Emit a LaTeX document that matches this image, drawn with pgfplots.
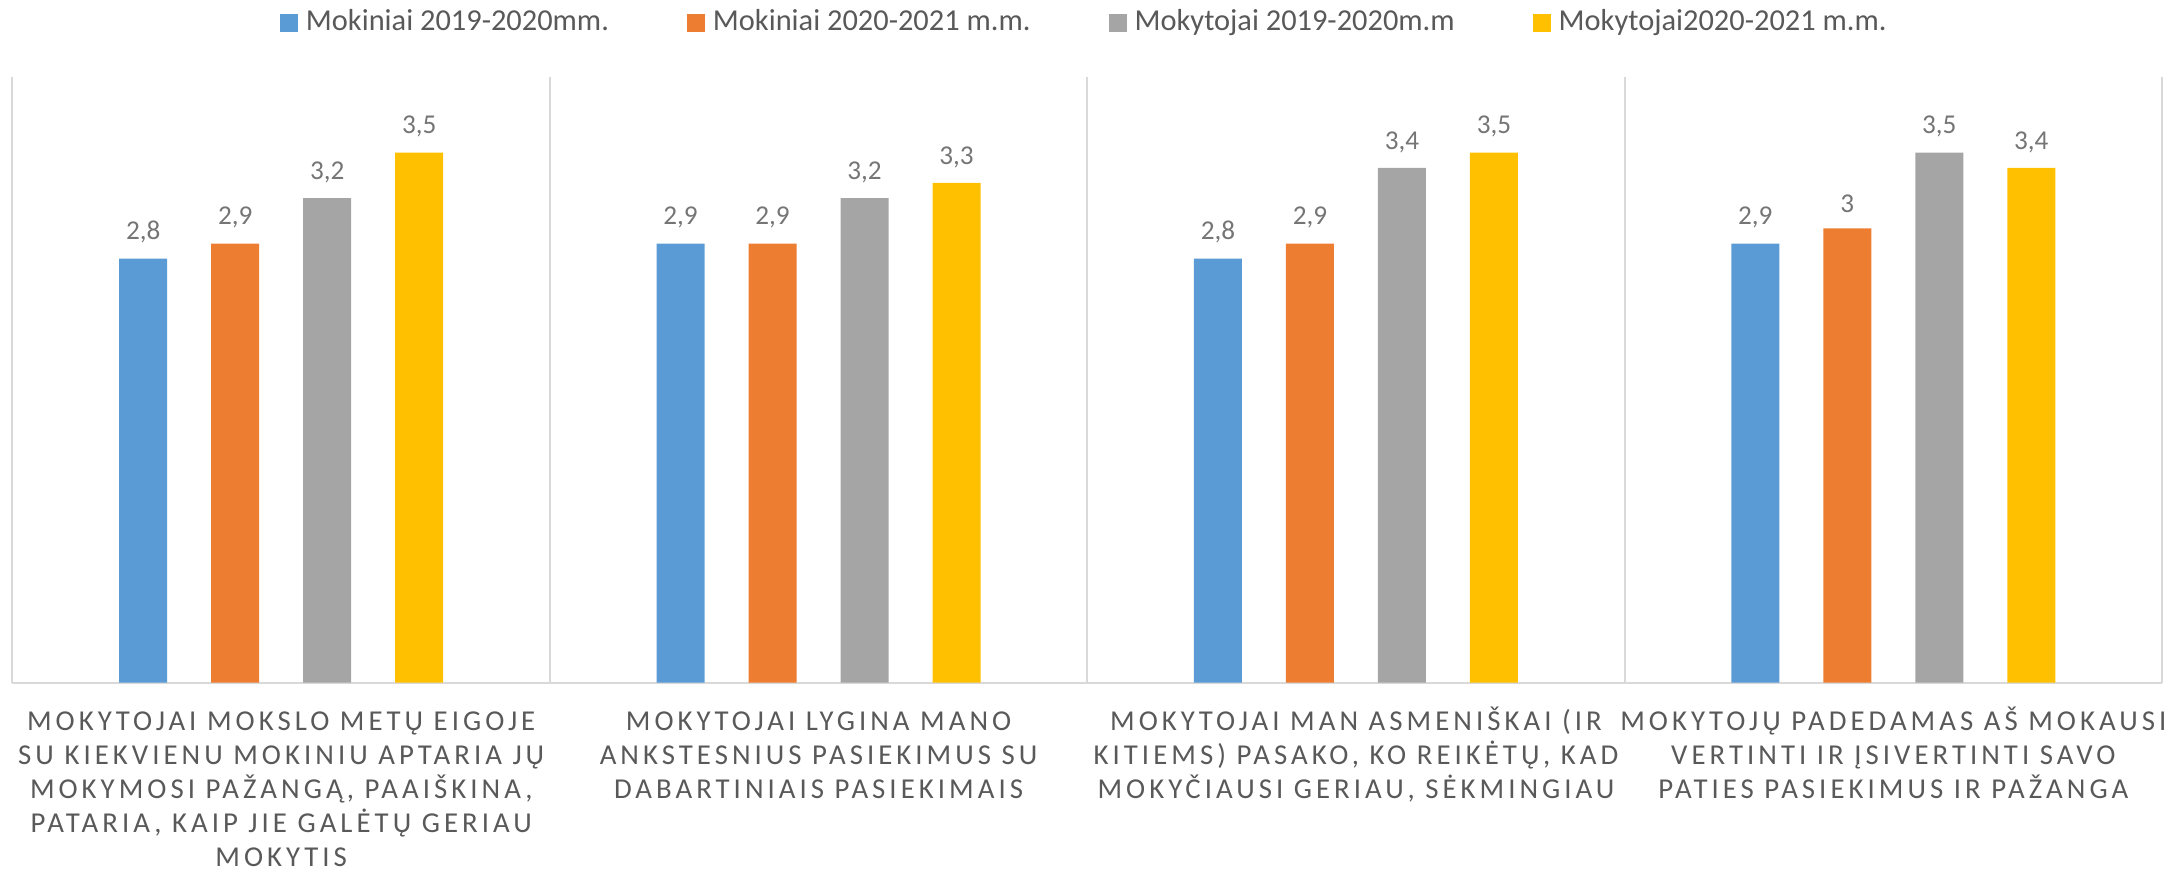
\documentclass[border=0pt]{standalone}
\usepackage{fontspec}
\setmainfont{Carlito}
\newfontfamily\catfont[LetterSpace=14]{Carlito}
\usepackage{pgfplots}
\pgfplotsset{compat=1.18}
\usetikzlibrary{calc}

\definecolor{cBlue}{HTML}{5B9BD5}
\definecolor{cOrange}{HTML}{ED7D31}
\definecolor{cGray}{HTML}{A5A5A5}
\definecolor{cYellow}{HTML}{FFC000}
\definecolor{txt}{HTML}{595959}
\definecolor{lbl}{HTML}{757575}
\definecolor{grid}{HTML}{D9D9D9}

\newcommand\cs{\rule{0pt}{6pt}}

\begin{document}
\begin{tikzpicture}
\begin{axis}[
  scale only axis,
  width=537.375pt, height=151.375pt,
  ybar=11pt, bar width=12pt,
  xmin=-0.5, xmax=3.5, ymin=0, ymax=4,
  axis x line*=bottom, axis y line=none,
  x axis line style={draw=grid, line width=0.5pt},
  xtick={0,1,2,3},
  minor xtick={-0.5,0.5,1.5,2.5,3.5},
  xminorgrids, minor grid style={draw=grid, line width=0.5pt},
  major tick length=0pt, minor tick length=0pt,
  ytick=\empty,
  xticklabels={
    {\cs MOKYTOJAI MOKSLO METŲ EIGOJE\\SU KIEKVIENU MOKINIU APTARIA JŲ\\MOKYMOSI PAŽANGĄ, PAAIŠKINA,\\PATARIA, KAIP JIE GALĖTŲ GERIAU\\MOKYTIS},
    {\cs MOKYTOJAI LYGINA MANO\\ANKSTESNIUS PASIEKIMUS SU\\DABARTINIAIS PASIEKIMAIS},
    {\cs MOKYTOJAI MAN ASMENIŠKAI (IR\\KITIEMS) PASAKO, KO REIKĖTŲ, KAD\\MOKYČIAUSI GERIAU, SĖKMINGIAU},
    {\cs MOKYTOJŲ PADEDAMAS AŠ MOKAUSI\\VERTINTI IR ĮSIVERTINTI SAVO\\PATIES PASIEKIMUS IR PAŽANGA}
  },
  xticklabel style={anchor=north, align=center, inner sep=0pt, yshift=-5.9pt,
    font=\catfont\fontsize{7.2}{8.5}\selectfont, text=txt},
  nodes near coords,
  nodes near coords style={font=\fontsize{6.8}{8}\selectfont, text=lbl, yshift=0.3pt},
  /pgf/number format/use comma,
  /pgf/number format/assume math mode=true,
  legend columns=4,
  legend style={at={(0.5,1)}, anchor=center, yshift=13.5pt, draw=none,
    font=\fontsize{7.6}{9}\selectfont, text=txt,
    /tikz/every even column/.append style={column sep=17.5pt}},
  legend image code/.code={\fill[#1] (0pt,-2.25pt) rectangle (4.5pt,2.25pt);},
]
\addplot[fill=cBlue, draw=none] coordinates {(0,2.8)(1,2.9)(2,2.8)(3,2.9)};
\addlegendentry{Mokiniai 2019-2020mm.}
\addplot[fill=cOrange, draw=none] coordinates {(0,2.9)(1,2.9)(2,2.9)(3,3)};
\addlegendentry{Mokiniai 2020-2021 m.m.}
\addplot[fill=cGray, draw=none] coordinates {(0,3.2)(1,3.2)(2,3.4)(3,3.5)};
\addlegendentry{Mokytojai 2019-2020m.m}
\addplot[fill=cYellow, draw=none] coordinates {(0,3.5)(1,3.3)(2,3.5)(3,3.4)};
\addlegendentry{Mokytojai2020-2021 m.m.}
\coordinate (O) at (rel axis cs:0,0);
\end{axis}
\pgfresetboundingbox
\path ($(O)+(-3.125pt,-47.125pt)$) rectangle ++(545pt,217.75pt);
\end{tikzpicture}
\end{document}
